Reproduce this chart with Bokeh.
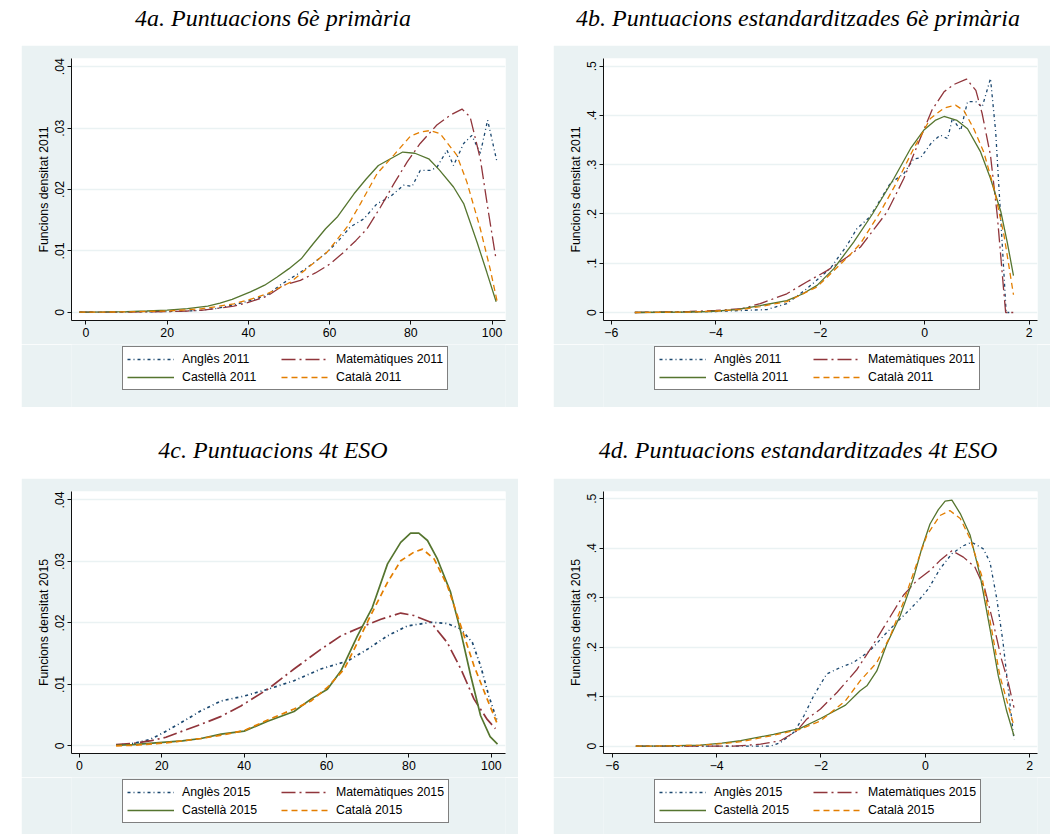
from bokeh.plotting import figure
from bokeh.models import Range1d, FixedTicker, Legend, LegendItem, Div, Spacer
from bokeh.layouts import row, column
from bokeh.embed import file_html
from bokeh.resources import INLINE

# ---------------- DATA ----------------
series_names = ["Anglès", "Matemàtiques", "Castellà", "Català"]

# 4a. Puntuacions 6è primària (density, 2011)
a_angles_x = [-1.6, 10, 20, 25, 28.3, 32, 36.4, 40, 44.6, 48, 52.8, 56, 59.4, 62, 65.1, 68.4, 71.7, 74.9, 78.2, 80.3, 82.3, 84.8, 86.4, 88.9, 90.5, 93.0, 95.0, 97.1, 98.9, 101.2]
a_angles_y = [0, 0.00003, 0.0001, 0.0002, 0.0003, 0.0006, 0.0012, 0.0018, 0.0028, 0.0045, 0.0065, 0.008, 0.0098, 0.0115, 0.0139, 0.0152, 0.0177, 0.0188, 0.0207, 0.0205, 0.0231, 0.0231, 0.0236, 0.0264, 0.0239, 0.0275, 0.0288, 0.0259, 0.0313, 0.0245]
a_mates_x = [-1.6, 10, 20, 25, 28.3, 32, 36.4, 40, 44.6, 48.7, 52.8, 56.5, 60.2, 63.5, 66.5, 69.2, 72.5, 75.8, 79.1, 82.3, 86.4, 89.7, 92.6, 94.6, 97.1, 99.1, 101.0]
a_mates_y = [0, 0.00003, 0.0001, 0.0002, 0.0003, 0.0006, 0.001, 0.0016, 0.0026, 0.0044, 0.0052, 0.0064, 0.0079, 0.0098, 0.0117, 0.0136, 0.0171, 0.0209, 0.0245, 0.0275, 0.0305, 0.0321, 0.0331, 0.0318, 0.0250, 0.0163, 0.0085]
a_cast_x = [-1.6, 5, 10, 15, 20, 25, 30, 33, 36, 40.5, 44, 47, 50, 53, 56, 59, 62, 66, 69, 72, 75, 78, 81, 84.4, 87, 90.5, 93, 96.3, 98.7, 101]
a_cast_y = [0, 0.00005, 0.0001, 0.0002, 0.00035, 0.0006, 0.001, 0.0015, 0.0021, 0.0033, 0.0044, 0.0057, 0.0071, 0.0087, 0.0112, 0.0136, 0.0156, 0.0193, 0.0217, 0.0239, 0.0250, 0.0261, 0.0259, 0.0250, 0.0232, 0.0204, 0.0177, 0.0114, 0.0065, 0.0017]
a_cat_x = [-1.6, 10, 20, 25, 28.3, 32, 36.4, 40, 44.6, 50.4, 55.3, 59.4, 64.3, 67.6, 71.7, 75.8, 79.9, 82.5, 84.8, 87.2, 91.3, 93.8, 97.1, 99.5, 101.2]
a_cat_y = [0, 0.00005, 0.0002, 0.0004, 0.00055, 0.0009, 0.00137, 0.002, 0.003, 0.0049, 0.0076, 0.0098, 0.0139, 0.0177, 0.0226, 0.0256, 0.0287, 0.0294, 0.0296, 0.0291, 0.0256, 0.0212, 0.0136, 0.0071, 0.0019]

# 4b. Puntuacions estandarditzades 6è primària (2011)
b_angles_x = [-5.55, -5.0, -4.5, -4.0, -3.5, -3.02, -2.64, -2.26, -1.81, -1.49, -1.30, -1.05, -0.66, -0.40, -0.21, -0.08, 0.14, 0.30, 0.44, 0.53, 0.69, 0.82, 0.98, 1.10, 1.26, 1.36, 1.46, 1.56, 1.62]
b_angles_y = [0, 0.0005, 0.001, 0.002, 0.004, 0.006, 0.018, 0.048, 0.089, 0.136, 0.170, 0.194, 0.262, 0.282, 0.312, 0.314, 0.346, 0.360, 0.353, 0.394, 0.370, 0.428, 0.428, 0.417, 0.475, 0.366, 0.184, 0.0, 0.0]
b_mates_x = [-5.55, -5.0, -4.5, -4.0, -3.5, -3.15, -2.64, -2.26, -1.87, -1.49, -1.23, -0.72, -0.40, -0.14, 0.14, 0.37, 0.56, 0.80, 0.98, 1.10, 1.26, 1.39, 1.51, 1.55, 1.70]
b_mates_y = [0, 0.001, 0.002, 0.004, 0.008, 0.018, 0.038, 0.062, 0.085, 0.112, 0.133, 0.204, 0.272, 0.339, 0.411, 0.448, 0.463, 0.474, 0.451, 0.404, 0.319, 0.197, 0.048, 0.0, 0.0]
b_cast_x = [-5.55, -5.0, -4.5, -4.11, -3.6, -3.15, -2.64, -2.35, -2.06, -1.74, -1.36, -1.0, -0.59, -0.27, -0.02, 0.2, 0.37, 0.62, 0.82, 1.07, 1.26, 1.46, 1.58, 1.70]
b_cast_y = [0, 0.0005, 0.001, 0.002, 0.006, 0.014, 0.024, 0.037, 0.055, 0.089, 0.143, 0.200, 0.272, 0.333, 0.370, 0.390, 0.398, 0.390, 0.373, 0.326, 0.272, 0.204, 0.143, 0.075]
b_cat_x = [-5.55, -5.0, -4.5, -4.0, -3.5, -3.15, -2.64, -2.06, -1.74, -1.45, -1.23, -0.85, -0.53, -0.21, 0.11, 0.37, 0.59, 0.75, 0.94, 1.13, 1.33, 1.52, 1.70]
b_cat_y = [0, 0.0005, 0.001, 0.003, 0.006, 0.012, 0.022, 0.052, 0.085, 0.115, 0.140, 0.204, 0.265, 0.333, 0.394, 0.415, 0.421, 0.410, 0.373, 0.326, 0.251, 0.156, 0.036]

# 4c. Puntuacions 4t ESO (density, 2015)
c_angles_x = [8.9, 13, 17, 20, 24, 27, 29.5, 34.4, 40, 45.7, 52.1, 58.6, 65.1, 69.9, 74.8, 79.6, 85.3, 89.3, 92.6, 95.4, 97.4, 99.4, 101.3]
c_angles_y = [0.0001, 0.0004, 0.001, 0.002, 0.0035, 0.0047, 0.0057, 0.0073, 0.0081, 0.0092, 0.0106, 0.0125, 0.0138, 0.0157, 0.0179, 0.0195, 0.0201, 0.0199, 0.0190, 0.0168, 0.0130, 0.0081, 0.0043]
c_mates_x = [8.9, 13, 17.1, 21, 25, 29.5, 34.4, 39.2, 45.7, 52.1, 58.6, 63.5, 68.3, 73.2, 78, 81.2, 85.3, 89.3, 92.6, 95.8, 99, 101]
c_mates_y = [0.0002, 0.0004, 0.0008, 0.0014, 0.0024, 0.0035, 0.0048, 0.0065, 0.0092, 0.0125, 0.0157, 0.0179, 0.0193, 0.0206, 0.0216, 0.0212, 0.0201, 0.0168, 0.0125, 0.0076, 0.0043, 0.0028]
c_cast_x = [8.9, 13, 17, 21, 25, 29.5, 34.4, 40, 45.7, 52.1, 56.2, 60.2, 63.5, 67.5, 71.1, 74.8, 78, 80.4, 82.4, 84.5, 86.9, 90.1, 92.6, 95, 97.4, 99.7, 101.5]
c_cast_y = [0.0001, 0.0002, 0.0004, 0.0006, 0.0008, 0.0012, 0.0019, 0.0024, 0.0040, 0.0056, 0.0076, 0.0092, 0.0122, 0.0179, 0.0225, 0.0296, 0.0331, 0.0346, 0.0346, 0.0334, 0.0304, 0.0250, 0.0185, 0.0114, 0.0049, 0.0015, 0.0003]
c_cat_x = [8.9, 13, 17, 21, 25, 29.5, 35, 40, 45.7, 52.1, 56.2, 60.2, 64.3, 67.5, 70.7, 74.8, 78, 81.2, 83.3, 86.1, 89.3, 92.6, 95.8, 99, 101.5]
c_cat_y = [0.0, 0.0001, 0.0003, 0.0005, 0.0008, 0.0012, 0.0018, 0.0025, 0.0042, 0.0060, 0.0073, 0.0095, 0.0125, 0.0168, 0.0212, 0.0266, 0.0301, 0.0315, 0.0320, 0.0304, 0.0261, 0.0195, 0.0130, 0.0076, 0.0035]

# 4d. Puntuacions estandarditzades 4t ESO (2015)
d_angles_x = [-5.55, -4.5, -3.5, -2.97, -2.78, -2.52, -2.33, -2.14, -1.89, -1.63, -1.38, -1.06, -0.78, -0.55, -0.29, -0.10, 0.06, 0.28, 0.51, 0.73, 0.89, 1.11, 1.24, 1.37, 1.49, 1.62, 1.70]
d_angles_y = [0, 0, 0.0, 0.0, 0.007, 0.028, 0.061, 0.102, 0.146, 0.159, 0.169, 0.193, 0.225, 0.250, 0.277, 0.298, 0.318, 0.358, 0.389, 0.405, 0.412, 0.399, 0.372, 0.298, 0.210, 0.088, 0.014]
d_mates_x = [-5.55, -4.5, -3.67, -3.16, -2.78, -2.46, -2.27, -2.01, -1.69, -1.31, -1.0, -0.67, -0.42, -0.16, 0.09, 0.28, 0.51, 0.73, 0.95, 1.14, 1.30, 1.46, 1.59, 1.70]
d_mates_y = [0, 0, 0.0, 0.004, 0.011, 0.031, 0.055, 0.075, 0.109, 0.155, 0.205, 0.262, 0.305, 0.335, 0.355, 0.375, 0.395, 0.382, 0.362, 0.318, 0.250, 0.176, 0.129, 0.078]
d_cast_x = [-5.55, -5.0, -4.31, -3.9, -3.54, -2.91, -2.40, -2.01, -1.53, -1.25, -1.12, -0.93, -0.74, -0.48, -0.23, -0.07, 0.09, 0.25, 0.38, 0.51, 0.67, 0.86, 1.05, 1.24, 1.40, 1.56, 1.70]
d_cast_y = [0, 0.0005, 0.002, 0.006, 0.011, 0.024, 0.036, 0.056, 0.083, 0.112, 0.122, 0.152, 0.206, 0.264, 0.338, 0.399, 0.449, 0.478, 0.495, 0.497, 0.470, 0.426, 0.345, 0.237, 0.142, 0.071, 0.021]
d_cat_x = [-5.55, -5.0, -4.31, -3.9, -3.54, -2.91, -2.40, -2.01, -1.53, -1.25, -0.93, -0.67, -0.42, -0.20, 0.03, 0.28, 0.47, 0.67, 0.86, 1.08, 1.27, 1.43, 1.59, 1.70]
d_cat_y = [0, 0.0005, 0.002, 0.005, 0.009, 0.022, 0.034, 0.051, 0.092, 0.132, 0.169, 0.223, 0.291, 0.358, 0.426, 0.466, 0.476, 0.460, 0.419, 0.345, 0.237, 0.142, 0.082, 0.041]

titles = ["4a. Puntuacions 6è primària",
          "4b. Puntuacions estandarditzades 6è primària",
          "4c. Puntuacions 4t ESO",
          "4d. Puntuacions estandarditzades 4t ESO"]

score_ticks = [0, 20, 40, 60, 80, 100]
score_labels = ["0", "20", "40", "60", "80", "100"]
std_ticks = [-6, -4, -2, 0, 2]
std_labels = ["\u22126", "\u22124", "\u22122", "0", "2"]
dens_ticks = [0, 0.01, 0.02, 0.03, 0.04]
dens_labels = ["0", ".01", ".02", ".03", ".04"]
stdd_ticks = [0, 0.1, 0.2, 0.3, 0.4, 0.5]
stdd_labels = ["0", ".1", ".2", ".3", ".4", ".5"]

# ---------------- STYLE ----------------
BG = "#eaf2f3"
COLORS = ["#1a476f", "#90353b", "#55752f", "#e37e00"]
DASHES = ["3 3 1 3", "14 4 2 4", "solid", "6 4"]
SANS = "Liberation Sans"
FS = "12.3px"
W = 497


def make_panel(data, year, xr, xt, xl, yr, yt, yl, total_h, top, leg_top, lw):
    main_h = top + 262 + 24
    p = figure(width=W, height=main_h, x_range=Range1d(*xr), y_range=Range1d(*yr),
               output_backend="svg", toolbar_location=None,
               min_border_left=50, min_border_right=13, min_border_top=top,
               min_border_bottom=24,
               background_fill_color="white", border_fill_color=BG,
               outline_line_color=None)
    for (xs, ys), c, d in zip(data, COLORS, DASHES):
        p.line(xs, ys, line_color=c, line_dash=d, line_width=lw)
    p.xaxis.ticker = FixedTicker(ticks=xt, minor_ticks=[])
    p.xaxis.major_label_overrides = dict(zip(xt, xl))
    p.yaxis.ticker = FixedTicker(ticks=yt, minor_ticks=[])
    p.yaxis.major_label_overrides = dict(zip(yt, yl))
    for ax in (p.xaxis[0], p.yaxis[0]):
        ax.axis_line_color = "#111111"
        ax.axis_line_width = 1
        ax.major_tick_line_color = "#111111"
        ax.major_tick_out = 4
        ax.major_tick_in = 0
        ax.minor_tick_line_color = None
        ax.major_label_text_font = SANS
        ax.major_label_text_font_size = FS
        ax.major_label_text_color = "#000000"
    p.xaxis.major_label_standoff = 3
    p.yaxis.major_label_standoff = 3
    p.yaxis.major_label_orientation = "vertical"
    p.yaxis.axis_label = "Funcions densitat %s" % year
    p.yaxis.axis_label_text_font = SANS
    p.yaxis.axis_label_text_font_size = FS
    p.yaxis.axis_label_text_font_style = "normal"
    p.yaxis.axis_label_text_color = "#000000"
    p.yaxis.axis_label_standoff = 2
    p.xgrid.visible = False
    p.ygrid.ticker = FixedTicker(ticks=yt, minor_ticks=[])
    p.ygrid.grid_line_color = BG
    p.ygrid.grid_line_width = 1.5

    # legend strip (same series, drawn outside its visible range)
    leg_h = total_h - main_h
    lf = figure(width=W, height=leg_h, x_range=Range1d(*xr), y_range=Range1d(10, 11),
                output_backend="svg", toolbar_location=None,
                x_axis_type=None, y_axis_type=None, min_border=0,
                min_border_left=0, min_border_right=0, min_border_top=0, min_border_bottom=0,
                background_fill_color=BG, border_fill_color=BG, outline_line_color=None)
    lf.xgrid.visible = False
    lf.ygrid.visible = False
    rs = []
    for (xs, ys), c, d in zip(data, COLORS, DASHES):
        rs.append(lf.line(xs, ys, line_color=c, line_dash=d, line_width=lw))
    items = [LegendItem(label="%s %s" % (n, year), renderers=[r]) for n, r in zip(series_names, rs)]
    leg_height = 42
    leg = Legend(items=items, location=(51, leg_h - leg_top - leg_height),
                 orientation="horizontal", ncols=2,
                 border_line_color="#000000", border_line_width=1,
                 background_fill_color="white", background_fill_alpha=1.0,
                 label_text_font=SANS, label_text_font_size=FS, label_text_color="#000000",
                 glyph_width=47, glyph_height=16, label_height=16, label_width=97,
                 label_standoff=8, spacing=2, padding=4, margin=0)
    lf.add_layout(leg)
    return column(p, lf, margin=0)


def title_div(text, width, height, pad):
    html = ('<div style="width:%dpx;text-align:center;font-family:\'Liberation Serif\',serif;'
            'font-style:italic;font-size:24px;line-height:36px;color:#000;'
            'padding-top:%dpx;white-space:nowrap;">%s</div>' % (width, pad, text))
    return Div(text=html, width=width, height=height, margin=0)


pa = make_panel([(a_angles_x, a_angles_y), (a_mates_x, a_mates_y), (a_cast_x, a_cast_y), (a_cat_x, a_cat_y)],
                "2011", (-3.55, 103.3), score_ticks, score_labels,
                (-0.00135, 0.04134), dens_ticks, dens_labels, 362, 13, 4, 1.3)
pb = make_panel([(b_angles_x, b_angles_y), (b_mates_x, b_mates_y), (b_cast_x, b_cast_y), (b_cat_x, b_cat_y)],
                "2011", (-6.15, 2.16), std_ticks, std_labels,
                (-0.01626, 0.5157), stdd_ticks, stdd_labels, 362, 13, 4, 1.3)
pc = make_panel([(c_angles_x, c_angles_y), (c_mates_x, c_mates_y), (c_cast_x, c_cast_y), (c_cat_x, c_cat_y)],
                "2015", (-1.92, 103.44), score_ticks, score_labels,
                (-0.00124, 0.04137), dens_ticks, dens_labels, 356, 13, 4, 1.7)
pd = make_panel([(d_angles_x, d_angles_y), (d_mates_x, d_mates_y), (d_cast_x, d_cast_y), (d_cat_x, d_cat_y)],
                "2015", (-6.17, 2.151), std_ticks, std_labels,
                (-0.0148, 0.5146), stdd_ticks, stdd_labels, 356, 13, 4, 1.3)

layout = column(
    row(title_div(titles[0], 546, 45, 0), title_div(titles[1], 504, 45, 0), margin=0),
    row(Spacer(width=21, height=362, margin=0), pa, Spacer(width=35, height=362, margin=0), pb, margin=0),
    row(title_div(titles[2], 546, 71, 25), title_div(titles[3], 504, 71, 25), margin=0),
    row(Spacer(width=21, height=356, margin=0), pc, Spacer(width=35, height=356, margin=0), pd, margin=0),
    margin=0,
)

open("out.html", "w").write(file_html(layout, INLINE))
